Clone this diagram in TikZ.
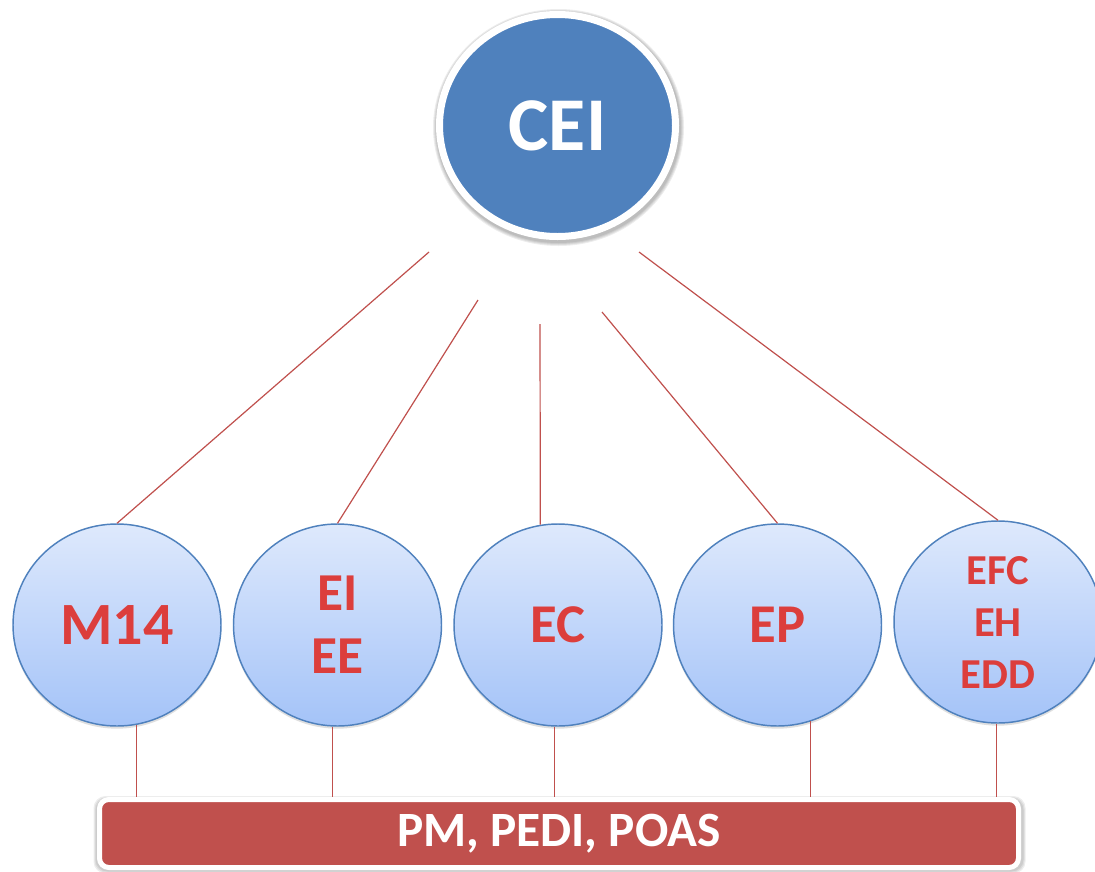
\documentclass[tikz,border=0pt]{standalone}
\usepackage{fontspec}
\setmainfont{Carlito}
\usetikzlibrary{shapes.geometric,shadows}
\definecolor{cblue}{HTML}{4F81BD}
\definecolor{cred}{HTML}{C0504D}
\definecolor{ltop}{HTML}{DEE9FC}
\definecolor{lbot}{HTML}{A4C3F8}
\definecolor{tred}{HTML}{DC3E3C}
\begin{document}
\begin{tikzpicture}[x=0.75pt,y=-0.75pt,
  sub/.style={ellipse, minimum width=156pt, minimum height=151.5pt, inner sep=0pt,
    draw=cblue, line width=1.1pt, top color=ltop, bottom color=lbot,
    drop shadow={shadow xshift=0pt, shadow yshift=-2pt, opacity=0.25},
    text=tred, align=center},
  link/.style={draw=cred, line width=0.9pt},
  softshade/.style={fill=black, opacity=0.07}]
\useasboundingbox (0,0) rectangle (1095,871);
\fill[white] (0,0) rectangle (1095,871);

% soft shadow round the top node
\foreach \d in {1,2,3,4}
  \fill[softshade] (558.5,127.5) ellipse [x radius=121.5+\d, y radius=114.5+\d];

% top node
\node[ellipse, minimum width=177pt, minimum height=166.5pt, inner sep=0pt,
  fill=cblue, draw=white, line width=5.25pt,
  text=white, font=\bfseries\fontsize{57pt}{57pt}\selectfont] (cei) at (557.5,125.5) {CEI};

% sub nodes
\node[sub, font=\bfseries\fontsize{45pt}{45pt}\selectfont] (m14) at (117,625) {M14};
\node[sub, font=\bfseries\fontsize{40pt}{47pt}\selectfont] (ei) at (337.5,625) {EI\\EE};
\node[sub, font=\bfseries\fontsize{41pt}{41pt}\selectfont] (ec) at (558,625) {EC};
\node[sub, font=\bfseries\fontsize{41pt}{41pt}\selectfont] (ep) at (777.5,625) {EP};
\node[sub, font=\bfseries\fontsize{32pt}{39pt}\selectfont] (efc) at (998,622) {EFC\\EH\\EDD};

% soft shadow round the bottom bar
\foreach \d in {1,2,3}
  \fill[softshade, rounded corners=9pt] (96.5-\d,797-\d+2) rectangle (1021.5+\d+1,870.5+\d);

% bottom bar
\node[rectangle, rounded corners=7pt, minimum width=689.25pt, minimum height=51pt, inner sep=0pt,
  fill=cred, draw=white, line width=3.75pt,
  text=white, font=\bfseries\fontsize{37pt}{37pt}\selectfont] (bar) at (559,833.5) {PM, PEDI, POAS};

% connector start points
\coordinate (s1) at (429,252);
\coordinate (s2) at (478,300);
\coordinate (s3) at (540,324);
\coordinate (s4) at (602,312);
\coordinate (s5) at (639,252);

\draw[link] (s1) -- (m14.north);
\draw[link] (s2) -- (ei.north);
\draw[link] (s3) -- (ec.100);
\draw[link] (s4) -- (ep.north);
\draw[link] (s5) -- (efc.north);

\draw[link] (m14.-79.7) -- (m14.-79.7 |- bar.north);
\draw[link] (ei.-93.1) -- (ei.-93.1 |- bar.north);
\draw[link] (ec.-92.8) -- (ec.-92.8 |- bar.north);
\draw[link] (ep.-71.3) -- (ep.-71.3 |- bar.north);
\draw[link] (efc.-91.7) -- (efc.-91.7 |- bar.north);
\end{tikzpicture}
\end{document}
